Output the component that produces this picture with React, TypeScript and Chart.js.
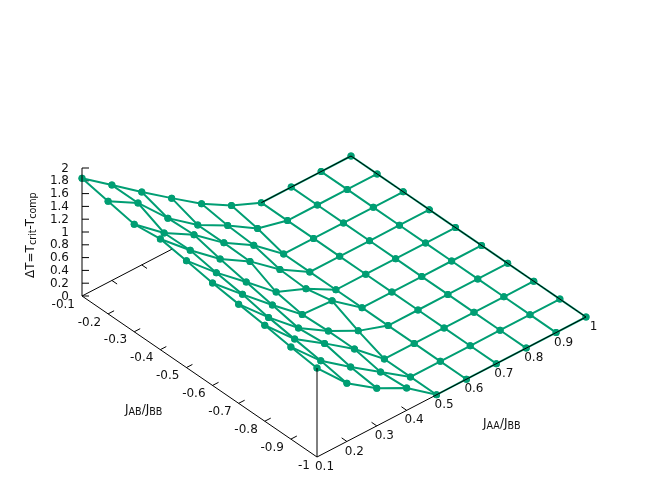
import React, { useEffect, useRef } from "react";
import { Chart, registerables } from "chart.js";

Chart.register(...registerables);

const jaaTicks = [0.1, 0.2, 0.3, 0.4, 0.5, 0.6, 0.7, 0.8, 0.9, 1];
const jabTicks = [-0.1, -0.2, -0.3, -0.4, -0.5, -0.6, -0.7, -0.8, -0.9, -1];
const zTicks = [0, 0.2, 0.4, 0.6, 0.8, 1, 1.2, 1.4, 1.6, 1.8, 2];

const zJabM01 = [1.84, 1.49, 1.14, 0.8, 0.47, 0.2, 0, 0, 0, 0];
const zJabM02 = [1.76, 1.49, 1.01, 0.66, 0.41, 0.12, 0, 0, 0, 0];
const zJabM03 = [1.68, 1.3, 1.03, 0.66, 0.38, 0, 0, 0, 0, 0];
const zJabM04 = [1.73, 1.31, 0.93, 0.65, 0.28, 0, 0, 0, 0, 0];
const zJabM05 = [1.67, 1.24, 0.85, 0.45, 0.26, 0, 0, 0, 0, 0];
const zJabM06 = [1.6, 1.18, 0.77, 0.38, 0.35, 0, 0, 0, 0, 0];
const zJabM07 = [1.55, 1.1, 0.69, 0.4, 0.16, 0, 0, 0, 0, 0];
const zJabM08 = [1.5, 1.04, 0.73, 0.4, 0, 0, 0, 0, 0, 0];
const zJabM09 = [1.44, 0.98, 0.64, 0.32, 0, 0, 0, 0, 0, 0];
const zJabM10 = [1.39, 0.91, 0.59, 0.35, 0, 0, 0, 0, 0, 0];
const zRows = [zJabM01, zJabM02, zJabM03, zJabM04, zJabM05, zJabM06, zJabM07, zJabM08, zJabM09, zJabM10];

// gnuplot-like view: where the (JAA, JAB, z) box falls in the page
const ORIGIN = { x: 82, y: 296 };
const PER_JAA = { x: 269 / 0.9, y: -140 / 0.9 };
const PER_JAB = { x: -235 / 0.9, y: -161 / 0.9 };
const PER_Z = -64;

const project = (jaa: number, jab: number, z: number) => ({
  x: ORIGIN.x + (jaa - 0.1) * PER_JAA.x + (jab + 0.1) * PER_JAB.x,
  y: ORIGIN.y + (jaa - 0.1) * PER_JAA.y + (jab + 0.1) * PER_JAB.y + z * PER_Z,
});

const GREEN = "#009e73";
const FONT = '"DejaVu Sans"';
const INK = "#111";
const GAP = { x: NaN, y: NaN };

const line = (data: any[], color: string, width: number, order: number) => ({
  data,
  showLine: true,
  borderColor: color,
  backgroundColor: color,
  borderWidth: width,
  pointRadius: 0,
  order,
  spanGaps: false,
});

function buildDatasets() {
  const sets: any[] = [];
  // surface lines and points
  jabTicks.forEach((jab, j) => {
    const pts = jaaTicks.map((jaa, i) => project(jaa, jab, zRows[j][i]));
    sets.push({ ...line(pts, GREEN, 2, 5), pointRadius: 3.5, pointBorderWidth: 0 });
  });
  jaaTicks.forEach((jaa, i) => {
    const pts = jabTicks.map((jab, j) => project(jaa, jab, zRows[j][i]));
    sets.push({ ...line(pts, GREEN, 2, 5), pointRadius: 3.5, pointBorderWidth: 0 });
  });

  // box
  const a = jaaTicks[0], b = jaaTicks[9], c = jabTicks[0], d = jabTicks[9];
  const box = [
    project(a, c, 0), project(a, d, 0), project(b, d, 0), project(b, c, 0), project(jaaTicks[6], c, 0), GAP,
    project(jaaTicks[3], c, 0), project(a, c, 0), GAP,
    project(a, c, 0), project(a, c, zTicks[10]), GAP,
    project(a, d, 0), project(a, d, zRows[9][0]),
  ];
  sets.push(line(box, "#000", 1, 1));

  // ticks sit under the surface lines
  const ticks: any[] = [];
  const tickJab = 0.02;
  const tickJaa = 0.02;
  jaaTicks.slice(1, 9).forEach((jaa) => {
    ticks.push(project(jaa, d, 0), project(jaa, d + tickJab, 0), GAP);
  });
  jabTicks.slice(1, 9).forEach((jab) => {
    ticks.push(project(a, jab, 0), project(a + tickJaa, jab, 0), GAP);
    ticks.push(project(b, jab, 0), project(b - tickJaa, jab, 0), GAP);
  });
  [jaaTicks[1], jaaTicks[2], jaaTicks[6], jaaTicks[7], jaaTicks[8]].forEach((jaa) => {
    ticks.push(project(jaa, c, 0), project(jaa, c - tickJab, 0), GAP);
  });
  zTicks.forEach((z) => {
    const p = project(a, c, z);
    ticks.push(p, { x: p.x + 7, y: p.y }, GAP);
  });
  sets.push(line(ticks, "#000", 1, 6));
  return sets;
}

type Seg = { t: string; sub?: boolean };

function drawRich(ctx: CanvasRenderingContext2D, segs: Seg[], subDrop: number) {
  let cx = 0;
  segs.forEach((s) => {
    ctx.font = `${s.sub ? 9.6 : 12}px ${FONT}`;
    ctx.fillText(s.t, cx, s.sub ? subDrop : 0);
    cx += ctx.measureText(s.t).width;
  });
}

const labelsPlugin = {
  id: "boxLabels",
  afterDatasetsDraw(chart: any) {
    const { ctx, scales } = chart;
    const px = (p: { x: number; y: number }) => ({
      x: scales.x.getPixelForValue(p.x),
      y: scales.y.getPixelForValue(p.y),
    });
    ctx.save();
    ctx.fillStyle = INK;
    ctx.font = `12px ${FONT}`;
    ctx.textBaseline = "middle";

    ctx.textAlign = "center";
    jaaTicks.forEach((jaa) => {
      const p = px(project(jaa, jabTicks[9], 0));
      ctx.fillText(String(jaa), p.x + 7.5, p.y + 10);
    });

    ctx.textAlign = "right";
    jabTicks.forEach((jab) => {
      const p = px(project(jaaTicks[0], jab, 0));
      ctx.fillText(String(jab), p.x - 7, p.y + 8.5);
    });

    zTicks.forEach((z) => {
      const p = px(project(jaaTicks[0], jabTicks[0], z));
      ctx.fillText(String(z), p.x - 13, p.y + 0.5);
    });

    ctx.textAlign = "left";
    ctx.textBaseline = "alphabetic";
    ctx.save();
    ctx.translate(483, 426.5);
    drawRich(ctx, [{ t: "J" }, { t: "AA", sub: true }, { t: "/J" }, { t: "BB", sub: true }], 2);
    ctx.restore();
    ctx.save();
    ctx.translate(125, 412.5);
    drawRich(ctx, [{ t: "J" }, { t: "AB", sub: true }, { t: "/J" }, { t: "BB", sub: true }], 2);
    ctx.restore();
    ctx.save();
    ctx.translate(34, 278);
    ctx.rotate(-Math.PI / 2);
    drawRich(ctx, [{ t: "ΔT=T" }, { t: "crit", sub: true }, { t: "-T" }, { t: "comp", sub: true }], 2);
    ctx.restore();
    ctx.restore();
  },
};

export default function App() {
  const ref = useRef<HTMLCanvasElement | null>(null);
  useEffect(() => {
    if (!ref.current) return;
    const chart = new Chart(ref.current, {
      type: "scatter",
      data: { datasets: buildDatasets() },
      options: {
        animation: false,
        responsive: false,
        layout: { padding: 0, autoPadding: false },
        plugins: { legend: { display: false }, tooltip: { enabled: false } },
        scales: {
          x: { type: "linear", display: false, min: 0, max: 667 },
          y: { type: "linear", display: false, min: 0, max: 500, reverse: true },
        },
      },
      plugins: [labelsPlugin],
    });
    return () => chart.destroy();
  }, []);
  return (
    <div style={{ position: "absolute", left: 0, top: 0, width: 667, height: 500, background: "#fff" }}>
      <canvas ref={ref} width={667} height={500} style={{ display: "block" }} />
    </div>
  );
}
